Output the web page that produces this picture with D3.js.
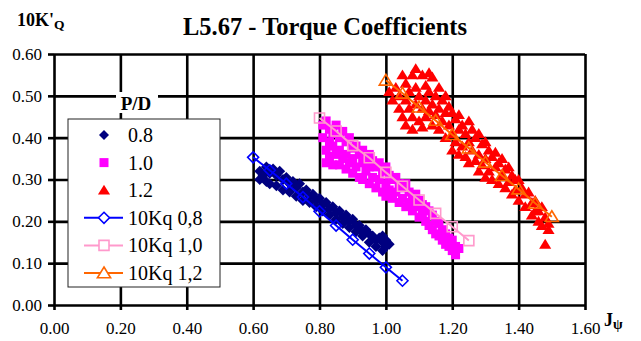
<!DOCTYPE html>
<html>
<head>
<title>L5.67 - Torque Coefficients</title>
<script src="https://d3js.org/d3.v7.min.js"></script>
<style>
  body { margin: 0; background: #fff; }
  svg text { font-family: "Liberation Serif", "DejaVu Serif", serif; fill: #000; }
</style>
</head>
<body>
<svg id="chart" width="641" height="341"></svg>
<script>
// ---------------- data ----------------
var xTicks = [0, 0.2, 0.4, 0.6, 0.8, 1.0, 1.2, 1.4, 1.6];
var yTicks = [0, 0.1, 0.2, 0.3, 0.4, 0.5, 0.6];

// measured points, P/D = 0.8 (J, 10KQ)
var pd08 = [[0.62,0.32],[0.62,0.30],[0.63,0.31],[0.64,0.33],[0.64,0.295],[0.65,0.315],[0.65,0.29],[0.66,0.325],
  [0.67,0.31],[0.67,0.285],[0.68,0.32],[0.69,0.30],[0.69,0.275],[0.70,0.305],[0.71,0.29],[0.71,0.27],
  [0.72,0.295],[0.73,0.28],[0.73,0.26],[0.74,0.29],[0.75,0.27],[0.75,0.25],[0.76,0.275],[0.77,0.26],
  [0.77,0.245],[0.78,0.265],[0.79,0.25],[0.79,0.235],[0.80,0.255],[0.81,0.24],[0.81,0.225],[0.82,0.245],
  [0.83,0.23],[0.83,0.215],[0.84,0.235],[0.85,0.22],[0.85,0.205],[0.86,0.225],[0.87,0.21],[0.87,0.195],
  [0.88,0.215],[0.89,0.20],[0.89,0.185],[0.90,0.205],[0.91,0.19],[0.91,0.175],[0.92,0.19],[0.93,0.175],
  [0.93,0.165],[0.94,0.18],[0.95,0.17],[0.95,0.15],[0.96,0.165],[0.97,0.155],[0.97,0.14],[0.98,0.16],
  [0.99,0.15],[0.99,0.13],[1.00,0.155],[1.00,0.14],[1.01,0.145],[0.99,0.165]];

// measured points, P/D = 1.0
var pd10 = [[0.81,0.43],[0.81,0.40],[0.82,0.44],[0.82,0.37],[0.82,0.34],[0.83,0.42],[0.83,0.39],[0.83,0.355],
  [0.84,0.41],[0.84,0.38],[0.84,0.335],[0.85,0.43],[0.85,0.36],[0.86,0.40],[0.86,0.37],[0.86,0.335],
  [0.87,0.415],[0.87,0.35],[0.88,0.39],[0.88,0.36],[0.88,0.325],[0.89,0.40],[0.89,0.34],[0.90,0.375],
  [0.90,0.35],[0.90,0.315],[0.91,0.38],[0.91,0.33],[0.92,0.36],[0.92,0.305],[0.93,0.37],[0.93,0.34],
  [0.93,0.30],[0.94,0.35],[0.94,0.32],[0.95,0.36],[0.95,0.33],[0.95,0.29],[0.96,0.345],[0.96,0.305],
  [0.97,0.33],[0.97,0.28],[0.98,0.34],[0.98,0.30],[0.99,0.32],[0.99,0.27],[1.00,0.33],[1.00,0.29],
  [1.00,0.26],[1.01,0.31],[1.01,0.275],[1.02,0.30],[1.02,0.255],[1.03,0.305],[1.03,0.27],[1.04,0.29],
  [1.04,0.245],[1.05,0.28],[1.05,0.255],[1.06,0.29],[1.06,0.235],[1.07,0.27],[1.07,0.245],[1.08,0.255],
  [1.08,0.225],[1.09,0.265],[1.09,0.235],[1.10,0.25],[1.10,0.21],[1.11,0.24],[1.11,0.22],[1.12,0.235],
  [1.12,0.20],[1.13,0.225],[1.13,0.19],[1.14,0.215],[1.14,0.18],[1.15,0.20],[1.15,0.17],[1.16,0.195],
  [1.16,0.165],[1.17,0.18],[1.17,0.155],[1.18,0.17],[1.18,0.145],[1.19,0.16],[1.19,0.14],[1.20,0.155],
  [1.20,0.13],[1.21,0.14],[1.21,0.12],[1.22,0.135]];

// measured points, P/D = 1.2
var pd12 = [[1.01,0.51],[1.02,0.49],[1.03,0.52],[1.04,0.50],[1.04,0.47],[1.05,0.55],[1.05,0.45],[1.06,0.53],
  [1.06,0.49],[1.06,0.43],[1.07,0.51],[1.07,0.47],[1.08,0.55],[1.08,0.45],[1.08,0.42],[1.09,0.565],
  [1.09,0.52],[1.09,0.48],[1.10,0.50],[1.10,0.44],[1.11,0.55],[1.11,0.47],[1.11,0.425],[1.12,0.525],
  [1.12,0.49],[1.12,0.45],[1.13,0.555],[1.13,0.51],[1.13,0.465],[1.14,0.545],[1.14,0.48],[1.14,0.43],
  [1.15,0.50],[1.15,0.455],[1.16,0.52],[1.16,0.47],[1.16,0.42],[1.17,0.49],[1.17,0.44],[1.18,0.50],
  [1.18,0.46],[1.18,0.40],[1.19,0.475],[1.19,0.43],[1.20,0.46],[1.20,0.41],[1.20,0.37],[1.21,0.445],
  [1.21,0.39],[1.22,0.455],[1.22,0.42],[1.22,0.36],[1.23,0.43],[1.23,0.38],[1.24,0.41],[1.24,0.355],
  [1.25,0.44],[1.25,0.39],[1.25,0.34],[1.26,0.42],[1.26,0.37],[1.27,0.40],[1.27,0.345],[1.28,0.41],
  [1.28,0.36],[1.28,0.32],[1.29,0.385],[1.29,0.335],[1.30,0.39],[1.30,0.35],[1.30,0.305],[1.31,0.37],
  [1.31,0.32],[1.32,0.355],[1.32,0.30],[1.33,0.365],[1.33,0.33],[1.34,0.34],[1.34,0.29],[1.35,0.35],
  [1.35,0.31],[1.36,0.325],[1.36,0.28],[1.37,0.33],[1.37,0.295],[1.38,0.31],[1.38,0.265],[1.39,0.30],
  [1.39,0.275],[1.40,0.30],[1.40,0.25],[1.41,0.28],[1.42,0.265],[1.42,0.235],[1.43,0.27],[1.44,0.245],
  [1.44,0.215],[1.45,0.25],[1.45,0.225],[1.46,0.225],[1.46,0.20],[1.47,0.235],[1.47,0.19],[1.48,0.21],
  [1.49,0.195],[1.49,0.18],[1.48,0.145]];

// fitted 10Kq curves
var kqJ08 = [0.60,0.65,0.70,0.75,0.80,0.85,0.90,0.95,1.00,1.05];
var kq08  = [0.353,0.322,0.290,0.258,0.224,0.190,0.156,0.123,0.090,0.058];
var kqJ10 = [0.80,0.85,0.90,0.95,1.00,1.05,1.10,1.15,1.20,1.25];
var kq10  = [0.447,0.416,0.381,0.352,0.317,0.284,0.251,0.219,0.187,0.154];
var kqJ12 = [1.00,1.05,1.10,1.15,1.20,1.25,1.30,1.35,1.40,1.45,1.50];
var kq12  = [0.537,0.506,0.473,0.441,0.407,0.375,0.341,0.309,0.277,0.243,0.211];

var legendLabels = ["0.8","1.0","1.2","10Kq 0,8","10Kq 1,0","10Kq 1,2"];

// ---------------- setup ----------------
var svg = d3.select("#chart");
var plotL = 54, plotR = 585, plotT = 54, plotB = 305;
var x = d3.scaleLinear().domain([0, 1.6]).range([plotL, plotR]);
var y = d3.scaleLinear().domain([0, 0.6]).range([plotB, plotT]);
var serif = "'Liberation Serif', 'DejaVu Serif', serif";

// marker shapes
var shapes = {
  diamond: function(s){ return "M0," + (-s) + "L" + s + ",0L0," + s + "L" + (-s) + ",0Z"; },
  square: function(s){ return "M" + (-s) + "," + (-s) + "H" + s + "V" + s + "H" + (-s) + "Z"; },
  triangle: function(s){ return "M0," + (-s) + "L" + (s * 1.1) + "," + (s * 0.8) + "L" + (-s * 1.1) + "," + (s * 0.8) + "Z"; }
};

// gridlines
svg.append("g")
  .attr("transform", "translate(0," + plotB + ")")
  .call(d3.axisBottom(x).tickValues(xTicks).tickSize(-(plotB - plotT)).tickFormat(""))
  .call(g => g.select(".domain").remove())
  .selectAll("line").attr("stroke", "#000").attr("stroke-width", 2.6);
svg.append("g")
  .attr("transform", "translate(" + plotL + ",0)")
  .call(d3.axisLeft(y).tickValues(yTicks).tickSize(-(plotR - plotL)).tickFormat(""))
  .call(g => g.select(".domain").remove())
  .selectAll("line").attr("stroke", "#000").attr("stroke-width", 2.6);

// axes with outside ticks and labels
var xAxis = svg.append("g")
  .attr("transform", "translate(0," + plotB + ")")
  .call(d3.axisBottom(x).tickValues(xTicks).tickSize(5).tickPadding(12).tickFormat(d3.format(".2f")));
var yAxis = svg.append("g")
  .attr("transform", "translate(" + plotL + ",0)")
  .call(d3.axisLeft(y).tickValues(yTicks).tickSize(6).tickPadding(6).tickFormat(d3.format(".2f")));
[xAxis, yAxis].forEach(function(a){
  a.attr("font-family", serif).attr("font-size", 17);
  a.select(".domain").remove();
  a.selectAll("line").attr("stroke", "#000").attr("stroke-width", 2.6);
  a.selectAll("text").attr("fill", "#000").style("font-family", serif);
});

// scatter series
function scatter(data, shape, size, color){
  svg.append("g").selectAll("path").data(data).enter().append("path")
    .attr("transform", d => "translate(" + x(d[0]) + "," + y(d[1]) + ")")
    .attr("d", shapes[shape](size))
    .attr("fill", color);
}
scatter(pd08, "diamond", 5.5, "#000080");
scatter(pd10, "square", 4.5, "#FF00FF");
scatter(pd12, "triangle", 5.5, "#FF0000");

// 10Kq curves
function curve(js, vals, shape, size, color){
  var pts = js.map((j, i) => [j, vals[i]]);
  var g = svg.append("g");
  g.append("path").datum(pts)
    .attr("d", d3.line().x(d => x(d[0])).y(d => y(d[1])))
    .attr("fill", "none").attr("stroke", color).attr("stroke-width", 2);
  g.selectAll(".m").data(pts).enter().append("path")
    .attr("transform", d => "translate(" + x(d[0]) + "," + y(d[1]) + ")")
    .attr("d", shapes[shape](size))
    .attr("fill", "none").attr("stroke", color).attr("stroke-width", 1.6);
}
curve(kqJ08, kq08, "diamond", 5.5, "#0000FF");
curve(kqJ10, kq10, "square", 5, "#FF99CC");
curve(kqJ12, kq12, "triangle", 6, "#FF6600");

// titles
svg.append("text").attr("x", 325).attr("y", 35).attr("text-anchor", "middle")
  .style("font-family", serif).attr("font-size", 24.5).attr("font-weight", "bold").text("L5.67 - Torque Coefficients");
var yl = svg.append("text").attr("x", 17).attr("y", 26).style("font-family", serif)
  .attr("font-size", 18).attr("font-weight", "bold");
yl.append("tspan").text("10K'");
yl.append("tspan").attr("dy", 3).attr("font-size", 13.5).text("Q");
var xl = svg.append("text").attr("x", 604).attr("y", 326).style("font-family", serif)
  .attr("font-size", 18).attr("font-weight", "bold");
xl.append("tspan").text("J");
xl.append("tspan").attr("dy", 3).attr("font-size", 14).text("\u03C8");

// legend
var lg = svg.append("g").style("font-family", serif);
lg.append("rect").attr("x", 68).attr("y", 119).attr("width", 152).attr("height", 168)
  .attr("fill", "#fff").attr("stroke", "#222").attr("stroke-width", 1);
lg.append("rect").attr("x", 116).attr("y", 92).attr("width", 42).attr("height", 21).attr("fill", "#fff");
lg.append("text").attr("x", 136).attr("y", 110).attr("text-anchor", "middle").style("font-family", serif)
  .attr("font-size", 19).attr("font-weight", "bold").text("P/D");

var legendMarks = [
  {shape: "diamond", size: 5, fill: "#000080", line: null},
  {shape: "square", size: 4.5, fill: "#FF00FF", line: null},
  {shape: "triangle", size: 5.5, fill: "#FF0000", line: null},
  {shape: "diamond", size: 5.5, fill: "#fff", line: "#0000FF"},
  {shape: "square", size: 5, fill: "#fff", line: "#FF99CC"},
  {shape: "triangle", size: 6, fill: "#fff", line: "#FF6600"}
];
legendLabels.forEach(function(lab, i){
  var cy = 135 + i * 27.6, m = legendMarks[i];
  if (m.line) {
    lg.append("line").attr("x1", 84).attr("x2", 123).attr("y1", cy).attr("y2", cy)
      .attr("stroke", m.line).attr("stroke-width", 2);
  }
  lg.append("path").attr("transform", "translate(104," + cy + ")")
    .attr("d", shapes[m.shape](m.size))
    .attr("fill", m.fill).attr("stroke", m.line || "none").attr("stroke-width", 1.6);
  lg.append("text").attr("x", 128).attr("y", cy + 7).style("font-family", serif)
    .attr("font-size", 20).text(lab);
});
</script>
</body>
</html>
